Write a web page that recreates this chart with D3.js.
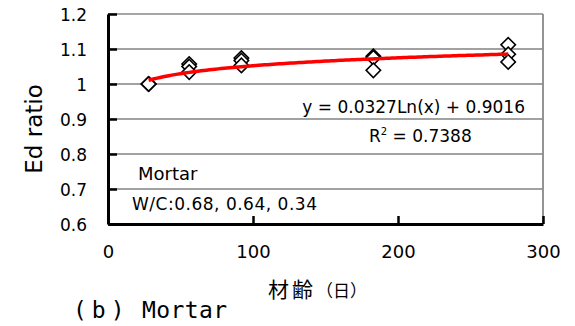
<!DOCTYPE html>
<html>
<head>
<meta charset="utf-8">
<script src="https://cdn.jsdelivr.net/npm/d3@7"></script>
<style>
  body { margin: 0; background: #fff; }
  svg { display: block; }
</style>
</head>
<body>
<div id="chart"></div>
<script>
// measured points (age in days, Ed ratio)
var ageDays = [28, 28, 28, 56, 56, 56, 92, 92, 92, 183, 183, 183, 276, 276, 276];
var edRatio = [1.000, 1.000, 1.000, 1.057, 1.050, 1.034, 1.074, 1.067, 1.053, 1.079, 1.075, 1.039, 1.112, 1.085, 1.063];

// logarithmic trendline shown on the chart
var fitSlope = 0.0327;
var fitIntercept = 0.9016;
var fitLabel = 'y = 0.0327Ln(x) + 0.9016';
var r2Value = '0.7388';

var xTicks = [0, 100, 200, 300];
var yTicks = [0.6, 0.7, 0.8, 0.9, 1.0, 1.1, 1.2];

var width = 575, height = 326;
var plotLeft = 108, plotRight = 543, plotTop = 14, plotBottom = 224;

var svg = d3.select('#chart').append('svg')
  .attr('width', width)
  .attr('height', height);

var x = d3.scaleLinear().domain([0, 300]).range([plotLeft, plotRight]);
var y = d3.scaleLinear().domain([0.6, 1.2]).range([plotBottom, plotTop]);

var font = "'DejaVu Sans', sans-serif";

/**
 * gridlines + frame
 */
svg.append('g')
  .selectAll('line')
  .data(yTicks.slice(1))
  .enter()
  .append('line')
  .attr('x1', plotLeft).attr('x2', plotRight)
  .attr('y1', function (d) { return y(d); })
  .attr('y2', function (d) { return y(d); })
  .attr('stroke', function (d) { return d === 1.2 ? '#888' : '#444'; })
  .attr('stroke-width', function (d) { return d === 1.2 ? 1.6 : 1.2; });

svg.append('line')
  .attr('x1', plotRight).attr('x2', plotRight)
  .attr('y1', plotTop).attr('y2', plotBottom)
  .attr('stroke', '#888')
  .attr('stroke-width', 1.8);

/**
 * axes
 */
var yAxis = svg.append('g')
  .attr('transform', 'translate(' + plotLeft + ',0)')
  .call(d3.axisLeft(y).tickValues(yTicks).tickSizeInner(-9).tickSizeOuter(0).tickFormat(function (d) { return String(+d.toFixed(1)); }));

yAxis.select('.domain').attr('stroke', '#000').attr('stroke-width', 3);
yAxis.selectAll('.tick line').attr('stroke', '#000').attr('stroke-width', 2.5);
yAxis.selectAll('.tick text')
  .attr('x', -21)
  .attr('dy', '0.4em')
  .style('font-family', font)
  .style('font-size', '17px')
  .attr('fill', '#000');

var xAxis = svg.append('g')
  .attr('transform', 'translate(0,' + plotBottom + ')')
  .call(d3.axisBottom(x).tickValues(xTicks).tickSizeInner(-8).tickSizeOuter(0));

xAxis.select('.domain').attr('stroke', '#000').attr('stroke-width', 3);
xAxis.selectAll('.tick line').attr('stroke', '#000').attr('stroke-width', 2.5);
xAxis.selectAll('.tick text')
  .attr('y', 27)
  .attr('dy', '0.38em')
  .style('font-family', font)
  .style('font-size', '18px')
  .attr('fill', '#000');

/**
 * markers
 */
var diamond = d3.symbol().type(d3.symbolSquare).size(104);

svg.append('g')
  .selectAll('path')
  .data(ageDays.map(function (a, i) { return { age: a, ratio: edRatio[i] }; }))
  .enter()
  .append('path')
  .attr('d', diamond)
  .attr('transform', function (d) {
    return 'translate(' + x(d.age) + ',' + y(d.ratio) + ') rotate(45)';
  })
  .attr('fill', '#fff')
  .attr('stroke', '#000')
  .attr('stroke-width', 1.6);

/**
 * trendline
 */
var xMin = d3.min(ageDays), xMax = d3.max(ageDays);
var trend = d3.range(xMin, xMax + 1, 2).map(function (a) {
  return [a, fitSlope * Math.log(a) + fitIntercept];
});

svg.append('path')
  .datum(trend)
  .attr('d', d3.line()
    .x(function (d) { return x(d[0]); })
    .y(function (d) { return y(d[1]); }))
  .attr('fill', 'none')
  .attr('stroke', '#ff0000')
  .attr('stroke-width', 3.5);

/**
 * labels
 */
svg.append('text')
  .attr('x', 525).attr('y', 113)
  .attr('text-anchor', 'end')
  .style('font-family', font)
  .style('font-size', '17px')
  .text(fitLabel);

var r2 = svg.append('text')
  .attr('x', 369).attr('y', 142)
  .style('font-family', font)
  .style('font-size', '17px');
r2.append('tspan').text('R');
r2.append('tspan').attr('dy', -7).style('font-size', '10px').text('2');
r2.append('tspan').attr('dy', 7).text(' = ' + r2Value);

svg.append('text')
  .attr('x', 138).attr('y', 180)
  .style('font-family', font)
  .style('font-size', '18px')
  .text('Mortar');

svg.append('text')
  .attr('x', 132).attr('y', 210)
  .attr('textLength', 185)
  .style('font-family', font)
  .style('font-size', '17px')
  .text('W/C:0.68, 0.64, 0.34');

svg.append('text')
  .attr('transform', 'translate(42,129) rotate(-90)')
  .attr('text-anchor', 'middle')
  .style('font-family', font)
  .style('font-size', '23px')
  .text('Ed ratio');

var xTitle = svg.append('text')
  .attr('x', 268).attr('y', 297)
  .style('font-family', "'Noto Sans CJK JP', sans-serif");
xTitle.append('tspan').style('font-size', '21px').attr('letter-spacing', 3).text('材齢');
xTitle.append('tspan').style('font-size', '17px').text('（日）');

svg.append('text')
  .attr('x', 73).attr('y', 318)
  .attr('letter-spacing', 5)
  .style('font-family', "'DejaVu Sans Mono', monospace")
  .style('font-size', '23px')
  .text('(b)');

svg.append('text')
  .attr('x', 142).attr('y', 318)
  .attr('textLength', 85)
  .style('font-family', "'DejaVu Sans Mono', monospace")
  .style('font-size', '23px')
  .text('Mortar');
</script>
</body>
</html>
